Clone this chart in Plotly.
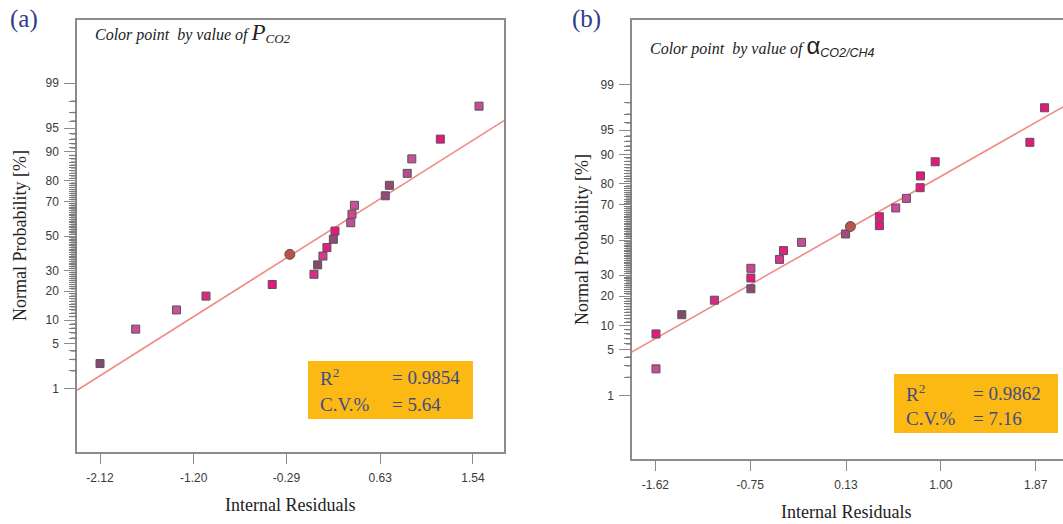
import plotly.graph_objects as go
from statistics import NormalDist

# ---------------- data ----------------
# Panel (a): colour by value of P_CO2
a_resid = [-2.12, -1.77, -1.37, -1.08, -0.43, -0.02, 0.016, 0.068, 0.107, 0.17,
           0.186, 0.341, 0.353, 0.377, 0.68, 0.72, 0.895, 0.94, 1.22, 1.60]
a_prob = [2.6, 7.8, 13.0, 18.0, 23.0, 28.0, 33.0, 38.0, 43.0, 48.0,
          53.0, 58.0, 63.0, 68.0, 73.0, 78.0, 83.0, 88.0, 93.0, 97.6]
a_level = [0.0, 0.5, 0.5, 0.85, 1.0, 0.8, 0.0, 0.7, 0.95, 0.1,
           1.0, 0.45, 0.6, 0.5, 0.1, 0.1, 0.35, 0.5, 1.0, 0.45]
a_center_resid = [-0.257]
a_center_prob = [39.0]
a_fit_resid = [-2.346, 1.845]
a_fit_prob = [0.94, 96.06]
a_xticks = [-2.12, -1.20, -0.29, 0.63, 1.54]
a_stats = ["0.9854", "5.64"]

# Panel (b): colour by value of alpha_CO2/CH4
b_resid = [-1.614, -1.614, -1.377, -1.078, -0.743, -0.743, -0.743, -0.48, -0.444, -0.278,
           0.126, 0.436, 0.436, 0.586, 0.684, 0.81, 0.813, 0.948, 1.817, 1.952]
b_prob = [8.0, 2.7, 13.2, 18.4, 23.3, 28.5, 33.6, 38.6, 43.7, 48.6,
          53.6, 58.5, 63.6, 68.4, 73.3, 78.3, 83.1, 87.9, 92.8, 97.6]
b_level = [1.0, 0.55, 0.0, 0.85, 0.05, 1.0, 0.6, 0.75, 0.95, 0.45,
           0.2, 1.0, 1.0, 0.55, 0.55, 1.0, 1.0, 1.0, 1.0, 1.0]
b_center_resid = [0.17]
b_center_prob = [58.0]
b_fit_resid = [-1.837, 2.127]
b_fit_prob = [4.7, 97.7]
b_xticks = [-1.62, -0.75, 0.13, 1.00, 1.87]
b_stats = ["0.9862", "7.16"]

y_major = [1, 5, 10, 20, 30, 50, 70, 80, 90, 95, 99]
y_minor = [2, 3, 4, 6, 7, 8, 9] + list(range(11, 20)) + list(range(21, 30)) + \
          list(range(31, 50)) + list(range(51, 70)) + list(range(71, 80)) + \
          list(range(81, 90)) + [91, 92, 93, 94, 96, 97, 98]

# ---------------- helpers ----------------
nd = NormalDist()


def z(ps):
    return [nd.inv_cdf(p / 100.0) for p in ps]


W, H = 1063, 524
AX = "#8c8c8c"
FIT = "#f08a85"
PINKS = [[0.0, "#86486d"], [0.5, "#c9509a"], [1.0, "#e8177d"]]
TEXTBLUE = "#3f4d86"
ORANGE = "#fdb913"

fig = go.Figure()


def add_panel(xs, ps, lv, cx, cp, fx, fp, xa, ya):
    fig.add_trace(go.Scatter(x=fx, y=z(fp), mode="lines", xaxis=xa, yaxis=ya,
                             line=dict(color=FIT, width=1.6), showlegend=False,
                             hoverinfo="skip"))
    fig.add_trace(go.Scatter(x=xs, y=z(ps), mode="markers", xaxis=xa, yaxis=ya,
                             marker=dict(symbol="square", size=8, color=lv,
                                         colorscale=PINKS, cmin=0, cmax=1,
                                         line=dict(color="#555555", width=1)),
                             showlegend=False))
    fig.add_trace(go.Scatter(x=cx, y=z(cp), mode="markers", xaxis=xa, yaxis=ya,
                             marker=dict(symbol="circle", size=10, color="#c0504d",
                                         line=dict(color="#555555", width=1)),
                             showlegend=False))


add_panel(a_resid, a_prob, a_level, a_center_resid, a_center_prob,
          a_fit_resid, a_fit_prob, "x", "y")
add_panel(b_resid, b_prob, b_level, b_center_resid, b_center_prob,
          b_fit_resid, b_fit_prob, "x2", "y2")

tickfont = dict(family="Arial, Liberation Sans, sans-serif", size=12, color="#3a3a3a")


def xaxis(domain, rng, ticks, mirror):
    return dict(domain=domain, range=rng, tickmode="array", tickvals=ticks,
                ticktext=["%.2f" % t for t in ticks], ticks="outside", ticklen=10,
                tickwidth=1.3, tickcolor=AX, showline=True, linecolor=AX, linewidth=1.5,
                mirror=mirror, showgrid=False, zeroline=False, tickfont=tickfont,
                ticklabelstandoff=4)


def yaxis(domain, rng, mirror, anchor):
    return dict(domain=domain, range=rng, anchor=anchor, tickmode="array",
                tickvals=z(y_major), ticktext=[str(v) for v in y_major],
                ticks="outside", ticklen=11, tickwidth=1.2, tickcolor=AX,
                showline=True, linecolor=AX, linewidth=1.5, mirror=mirror,
                showgrid=False, zeroline=False, tickfont=tickfont,
                ticklabelstandoff=3,
                minor=dict(tickmode="array", tickvals=z(y_minor), ticks="outside",
                           ticklen=6, tickwidth=1.3, tickcolor="#7a7a7a",
                           showgrid=False))


dom_a = [1 - 452 / H, 1 - 20 / H]
dom_b = [1 - 459 / H, 1 - 20 / H]
rng_a = [-3.29, 3.29]
rng_b = [-3.275, 3.29]
xdom_a = [77 / W, 504 / W]
xdom_b = [632 / W, 1.0]

fig.update_layout(
    width=W, height=H, margin=dict(l=0, r=0, t=0, b=0),
    paper_bgcolor="white", plot_bgcolor="white",
    xaxis=xaxis(xdom_a, [-2.346, 1.845], a_xticks, True),
    yaxis=yaxis(dom_a, rng_a, True, "x"),
    xaxis2=dict(xaxis(xdom_b, [-1.834, 2.121], b_xticks, True), anchor="y2"),
    yaxis2=yaxis(dom_b, rng_b, False, "x2"),
)

shapes = []
# minor probability ticks also as unclipped shapes in axis-domain units (same positions)
for yname, rng, x_left in (("y", rng_a, xdom_a[0]), ("y2", rng_b, xdom_b[0])):
    for zv in z(y_minor):
        frac = (zv - rng[0]) / (rng[1] - rng[0])
        shapes.append(dict(type="line", xref="paper", yref=yname + " domain",
                           x0=x_left - 6 / W, x1=x_left, y0=frac, y1=frac,
                           line=dict(color="#7a7a7a", width=1.3)))

serif = "Liberation Serif, Times New Roman, serif"
sans = "Arial, Liberation Sans, sans-serif"
ann = []
# panel letters
ann.append(dict(x=8 / W, y=1 - 19 / H, text="(a)", font=dict(family=serif, size=25, color="#2e3b8e")))
ann.append(dict(x=570 / W, y=1 - 19 / H, text="(b)", font=dict(family=serif, size=25, color="#2e3b8e")))
# colour captions
ann.append(dict(x=93 / W, y=1 - 33 / H,
                text="<i>Color point  by value of </i><span style='font-size:23px'><i>P</i></span>"
                     "<sub><span style='font-size:13px'><i>CO2</i></span></sub>",
                font=dict(family=serif, size=16, color="#222222")))
ann.append(dict(x=648 / W, y=1 - 46 / H,
                text="<i>Color point  by value of </i>"
                     "<span style='font-family:" + sans + ";font-size:24px'>\u03b1</span>"
                     "<sub><span style='font-family:" + sans + ";font-size:12.5px'><i>CO2/CH4</i></span></sub>",
                font=dict(family=serif, size=16, color="#222222")))
# axis titles
ann.append(dict(x=290 / W, y=1 - 505 / H, text="Internal Residuals", xanchor="center",
                font=dict(family=serif, size=18, color="#222222")))
ann.append(dict(x=846 / W, y=1 - 512 / H, text="Internal Residuals", xanchor="center",
                font=dict(family=serif, size=18, color="#222222")))
ann.append(dict(x=20 / W, y=1 - 236 / H, text="Normal Probability [%]", textangle=-90,
                xanchor="center", font=dict(family=serif, size=18, color="#222222")))
ann.append(dict(x=582 / W, y=1 - 240 / H, text="Normal Probability [%]", textangle=-90,
                xanchor="center", font=dict(family=serif, size=18, color="#222222")))


def stat_box(x0, y0, x1, y1, vals, tx, eqx, r1, r2):
    shapes.append(dict(type="rect", xref="paper", yref="paper", x0=x0 / W, x1=x1 / W,
                       y0=1 - y1 / H, y1=1 - y0 / H, fillcolor=ORANGE, line=dict(width=0),
                       layer="below"))
    f = dict(family=serif, size=19, color=TEXTBLUE)
    ann.append(dict(x=tx / W, y=1 - r1 / H, text="R<sup>2</sup>", font=f))
    ann.append(dict(x=eqx / W, y=1 - r1 / H, text="= " + vals[0], font=f))
    ann.append(dict(x=tx / W, y=1 - r2 / H, text="C.V.%", font=f))
    ann.append(dict(x=eqx / W, y=1 - r2 / H, text="= " + vals[1], font=f))


stat_box(308, 361, 473, 419, a_stats, 318, 390, 377, 404)
stat_box(894, 374, 1058, 433, b_stats, 904, 971, 393, 418)

for a in ann:
    a.setdefault("xanchor", "left")
    a.update(xref="paper", yref="paper", yanchor="middle", showarrow=False)

fig.update_layout(annotations=ann, shapes=shapes)
fig.write_html("out.html")
